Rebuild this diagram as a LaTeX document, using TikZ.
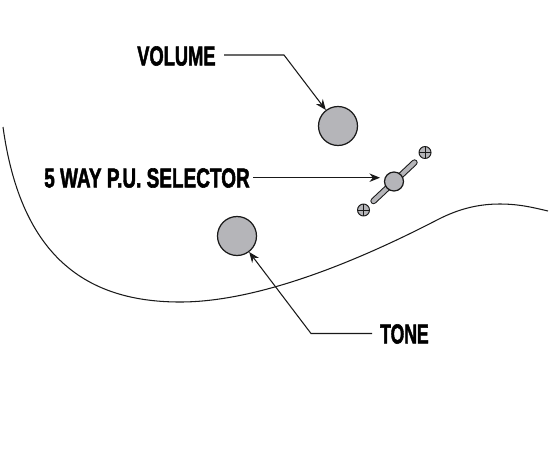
\documentclass[tikz,border=0pt]{standalone}
\usepackage{fontspec}
\newfontfamily\labelfont[FakeBold=2.2]{Liberation Sans Bold}
\usetikzlibrary{arrows.meta}
\definecolor{knobgray}{RGB}{181,181,185}
\tikzset{
  label text/.style={font=\labelfont\fontsize{15.6pt}{17pt}\selectfont, inner sep=0pt, text=black, anchor=west, xscale=#1, transform shape},
  leader/.style={draw=black!90, line width=0.6pt},
  knob/.style={circle, draw=black!90, fill=knobgray, line width=0.7pt, minimum size=39*0.02cm, inner sep=0pt},
  selector knob/.style={knob, minimum size=19*0.02cm},
  screw/.style={knob, minimum size=12*0.02cm, line width=0.55pt, path picture={
    \draw[line width=0.35pt] (path picture bounding box.north) -- (path picture bounding box.south);
    \draw[line width=0.35pt] (path picture bounding box.west) -- (path picture bounding box.east);}},
}
\begin{document}
\begin{tikzpicture}[x=0.02cm,y=-0.02cm,>={Stealth[length=6pt,width=4.8pt]}]
\useasboundingbox (0,0) rectangle (550,450);

% Body outline
\draw[line width=0.6pt, black!90] (3,127) .. controls (20,250) and (80,302) .. (180,302)
  .. controls (255,302) and (350,265) .. (437,220) .. controls (460,208) and (480,204) .. (500,204)
  .. controls (520,204) and (535,208) .. (548,211);

% Knobs
\node[knob] (volumeknob) at (338,126) {};
\node[knob] (toneknob) at (237,236) {};

% Selector lever
\draw[line width=3.6pt, line cap=round, black!90] (373.5,201) -- (414.5,162.5);
\draw[line width=2.4pt, line cap=round, knobgray] (373.5,201) -- (414.5,162.5);
\node[selector knob] (selectorknob) at (394,181.5) {};
\node[screw] (topscrew) at (425,152.5) {};
\node[screw] (bottomscrew) at (363.5,210) {};

% Labels
\node[label text=0.668] (volume) at (137,56) {VOLUME};
\node[label text=0.693] (selector) at (44,178) {5 WAY P.U. SELECTOR};
\node[label text=0.641] (tone) at (380,334) {TONE};

% Leaders
\coordinate (volumestart) at (224,55);
\coordinate (volumebend) at (284,55);
\coordinate (selectorstart) at (253,177.7);
\coordinate (selectortip) at (380,177.7);
\coordinate (tonestart) at (372,333.5);
\coordinate (tonebend) at (311,333.5);
\draw[leader,->] (volumestart) -- (volumebend) -- (volumeknob);
\draw[leader,->] (selectorstart) -- (selectortip);
\draw[leader,->] (tonestart) -- (tonebend) -- (toneknob);

\end{tikzpicture}
\end{document}
